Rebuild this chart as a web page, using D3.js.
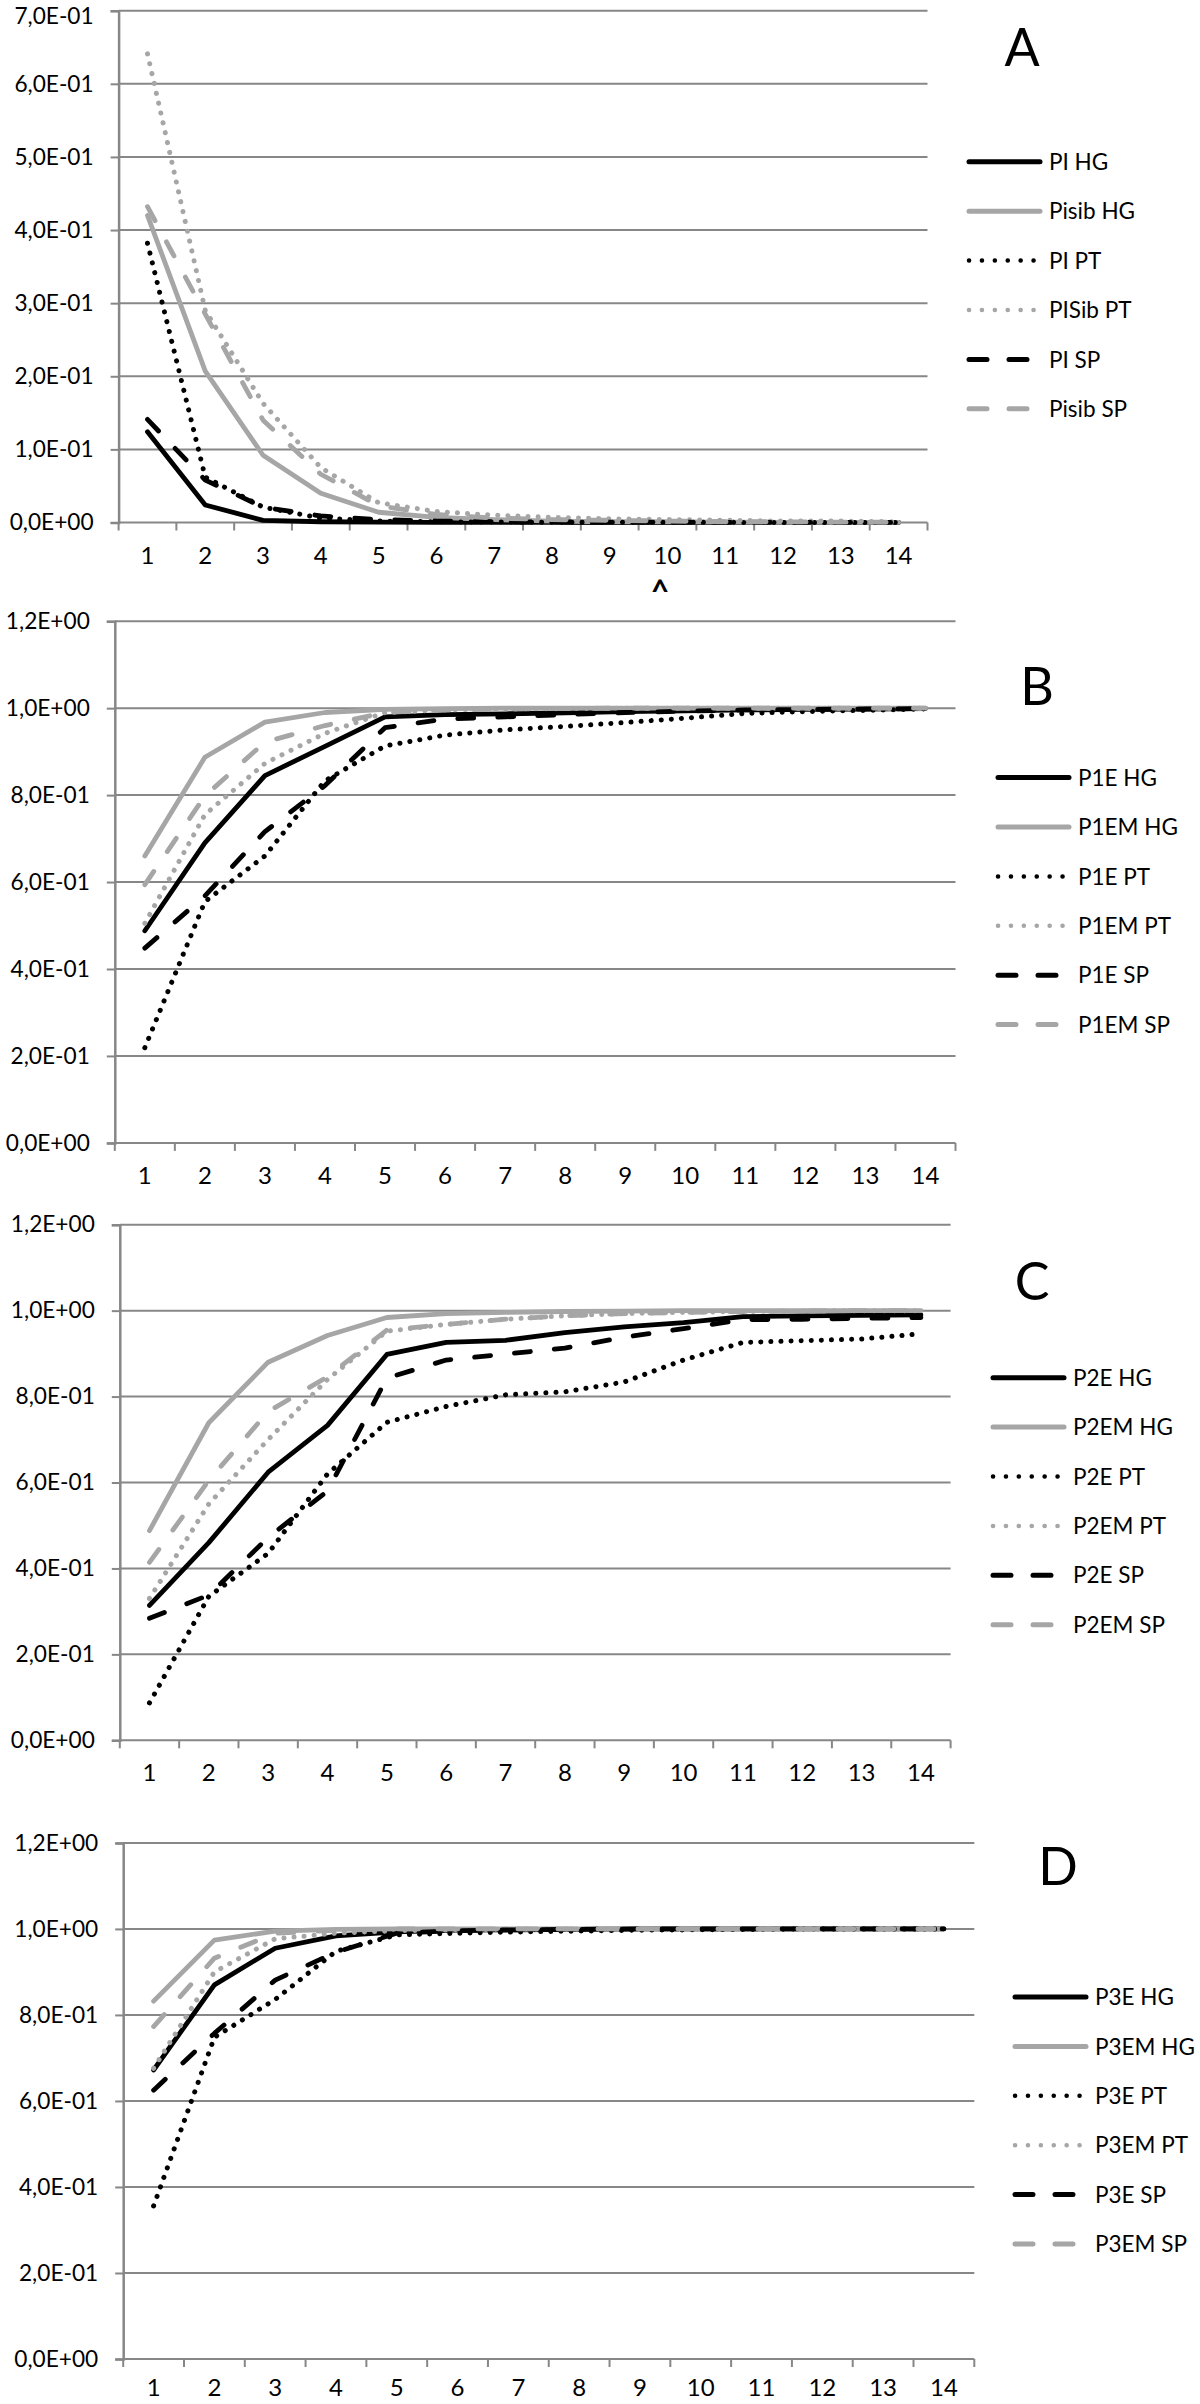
<!DOCTYPE html>
<html><head><meta charset="utf-8">
<script src="https://cdn.jsdelivr.net/npm/d3@7"></script>
<style>
html,body{margin:0;padding:0;background:#fff;}
svg{display:block;}
text{font-family:Lato,"Open Sans",sans-serif;fill:#000;}
</style></head>
<body>
<svg id="chart" width="1200" height="2404"></svg>
<script>
// ---------- DATA ----------
const categories = [1,2,3,4,5,6,7,8,9,10,11,12,13,14];

// Panel A
const namesA = ["PI HG","Pisib HG","PI PT","PISib PT","PI SP","Pisib SP"];
const PI_HG    = [0.124,0.024,0.003,0.001,0.0005,0.0003,0.0002,0.0001,0,0,0,0,0,0];
const Pisib_HG = [0.420,0.207,0.092,0.040,0.014,0.007,0.004,0.002,0.001,0.001,0.0005,0.0003,0.0002,0.0001];
const PI_PT    = [0.382,0.062,0.021,0.006,0.002,0.001,0.0006,0.0004,0.0003,0.0002,0.0002,0.0001,0.0001,0.0001];
const PISib_PT = [0.641,0.290,0.163,0.075,0.027,0.015,0.010,0.007,0.005,0.004,0.003,0.002,0.002,0.001];
const PI_SP    = [0.141,0.058,0.021,0.009,0.004,0.002,0.001,0.0008,0.0005,0.0004,0.0003,0.0002,0.0002,0.0001];
const Pisib_SP = [0.432,0.285,0.140,0.066,0.023,0.011,0.006,0.004,0.003,0.002,0.001,0.001,0.0005,0.0003];
const ticksA = [0,0.1,0.2,0.3,0.4,0.5,0.6,0.7];

// Panel B
const namesB = ["P1E HG","P1EM HG","P1E PT","P1EM PT","P1E SP","P1EM SP"];
const P1E_HG  = [0.488,0.690,0.845,0.912,0.980,0.985,0.987,0.989,0.992,0.994,0.996,0.997,0.998,0.999];
const P1EM_HG = [0.660,0.887,0.968,0.990,0.997,0.999,1.000,1.000,1.000,1.000,1.000,1.000,1.000,1.000];
const P1E_PT  = [0.219,0.555,0.660,0.833,0.913,0.938,0.950,0.958,0.967,0.977,0.988,0.992,0.995,0.998];
const P1EM_PT = [0.505,0.755,0.873,0.942,0.990,0.996,0.998,0.999,1.000,1.000,1.000,1.000,1.000,1.000];
const P1E_SP  = [0.448,0.568,0.716,0.822,0.955,0.975,0.980,0.985,0.990,0.993,0.996,0.997,0.998,0.999];
const P1EM_SP = [0.594,0.798,0.922,0.960,0.990,0.996,0.998,0.999,1.000,1.000,1.000,1.000,1.000,1.000];

// Panel C
const namesC = ["P2E HG","P2EM HG","P2E PT","P2EM PT","P2E SP","P2EM SP"];
const P2E_HG  = [0.314,0.460,0.624,0.733,0.898,0.926,0.931,0.949,0.962,0.972,0.986,0.988,0.989,0.990];
const P2EM_HG = [0.488,0.739,0.880,0.942,0.984,0.993,0.996,0.998,0.999,1.000,1.000,1.000,1.000,1.000];
const P2E_PT  = [0.087,0.335,0.435,0.620,0.740,0.777,0.804,0.811,0.834,0.885,0.926,0.930,0.934,0.946];
const P2EM_PT = [0.330,0.550,0.700,0.840,0.952,0.968,0.980,0.988,0.993,0.996,0.998,0.999,1.000,1.000];
const P2E_SP  = [0.284,0.338,0.472,0.580,0.843,0.885,0.899,0.913,0.938,0.958,0.979,0.980,0.982,0.984];
const P2EM_SP = [0.414,0.605,0.765,0.846,0.955,0.968,0.980,0.988,0.993,0.996,0.998,0.999,1.000,1.000];

// Panel D
const namesD = ["P3E HG","P3EM HG","P3E PT","P3EM PT","P3E SP","P3EM SP"];
const P3E_HG  = [0.672,0.870,0.955,0.984,0.993,0.997,0.998,0.999,1.000,1.000,1.000,1.000,1.000,1.000];
const P3EM_HG = [0.832,0.974,0.995,0.999,1.000,1.000,1.000,1.000,1.000,1.000,1.000,1.000,1.000,1.000];
const P3E_PT  = [0.356,0.748,0.836,0.948,0.986,0.990,0.993,0.995,0.997,0.998,0.999,1.000,1.000,1.000];
const P3EM_PT = [0.676,0.900,0.977,0.990,0.996,0.998,1.000,1.000,1.000,1.000,1.000,1.000,1.000,1.000];
const P3E_SP  = [0.625,0.757,0.881,0.946,0.990,0.996,0.998,0.999,1.000,1.000,1.000,1.000,1.000,1.000];
const P3EM_SP = [0.773,0.932,0.990,0.997,1.000,1.000,1.000,1.000,1.000,1.000,1.000,1.000,1.000,1.000];
const ticksBCD = [0,0.2,0.4,0.6,0.8,1.0,1.2];

const panelLetters = ["A","B","C","D"];
const caretLabel = "^";

// ---------- STYLES ----------
const BLACK = "#000000", GRAY = "#a6a6a6", GRID = "#878787";
const DOT = "0.1 10", DASH = "16 24";
const styles = [
  {color:BLACK, dash:null},
  {color:GRAY,  dash:null},
  {color:BLACK, dash:DOT},
  {color:GRAY,  dash:DOT},
  {color:BLACK, dash:DASH},
  {color:GRAY,  dash:DASH}
];

// ---------- LAYOUT ----------
const panels = [
  {letter:panelLetters[0], names:namesA, series:[PI_HG,Pisib_HG,PI_PT,PISib_PT,PI_SP,Pisib_SP], ticks:ticksA,
   left:118.6, right:927.5, top:10.7, bottom:522.5, xPad:24,
   legX:969, legY:161.8, letterX:1022, letterY:47},
  {letter:panelLetters[1], names:namesB, series:[P1E_HG,P1EM_HG,P1E_PT,P1EM_PT,P1E_SP,P1EM_SP], ticks:ticksBCD,
   left:114.8, right:955.5, top:621.2, bottom:1142.9, xPad:24,
   legX:998, legY:777.6, letterX:1037, letterY:686},
  {letter:panelLetters[2], names:namesC, series:[P2E_HG,P2EM_HG,P2E_PT,P2EM_PT,P2E_SP,P2EM_SP], ticks:ticksBCD,
   left:119.8, right:950.6, top:1224.7, bottom:1740.3, xPad:24,
   legX:993, legY:1377.7, letterX:1032, letterY:1281},
  {letter:panelLetters[3], names:namesD, series:[P3E_HG,P3EM_HG,P3E_PT,P3EM_PT,P3E_SP,P3EM_SP], ticks:ticksBCD,
   left:123.2, right:974.3, top:1842.9, bottom:2359, xPad:20,
   legX:1015, legY:1997, letterX:1058, letterY:1866}
];

function fmtE(v){
  let [m,e] = v.toExponential(1).split("e");
  const sign = e[0] === "-" ? "-" : "+";
  const n = Math.abs(parseInt(e,10));
  return m.replace(".",",") + "E" + sign + String(n).padStart(2,"0");
}

const svg = d3.select("#chart");
svg.append("rect").attr("width",1200).attr("height",2404).attr("fill","#fff");

// font sizing: fit measured text widths to the reference widths
function measure(str, size){
  const t = svg.append("text").attr("font-size", size).text(str);
  const w = t.node().getComputedTextLength();
  t.remove();
  return w;
}
const yFont = Math.min(27, 100 * 84 / measure("1,2E+00", 100));
const legFont = Math.min(29, 100 * 100 / measure("P1EM HG", 100));
const xFont = 24;

panels.forEach(p => {
  const g = svg.append("g");
  const yMax = d3.max(p.ticks);
  const x = d3.scaleBand().domain(categories).range([p.left, p.right]).padding(0);
  const y = d3.scaleLinear().domain([0, yMax]).range([p.bottom, p.top]);
  const bw = x.bandwidth();

  // gridlines
  g.selectAll("line.grid").data(p.ticks).join("line")
    .attr("x1", p.left).attr("x2", p.right)
    .attr("y1", d => y(d)).attr("y2", d => y(d))
    .attr("stroke", GRID).attr("stroke-width", 2);

  // y axis
  const yAxis = d3.axisLeft(y).tickValues(p.ticks).tickSize(8).tickPadding(17).tickFormat(fmtE);
  const ya = g.append("g").attr("transform", `translate(${p.left},0)`).call(yAxis);
  ya.select(".domain").attr("stroke", GRID).attr("stroke-width", 2.5);
  ya.selectAll(".tick line").attr("stroke", GRID).attr("stroke-width", 2);
  ya.selectAll(".tick text").attr("font-size", yFont).attr("font-family", "Lato").attr("fill", "#000");
  // keep a label that would poke above the page top inside it
  ya.selectAll(".tick").each(function(d){
    const ty = y(d);
    const minDy = yFont * 1.0 - ty; // baseline must be at least one em below the page top
    if (minDy > 0.32 * yFont) d3.select(this).select("text").attr("dy", (minDy + 0.5) + "px");
  });

  // x axis labels
  const xAxis = d3.axisBottom(x).tickSize(0).tickPadding(p.xPad);
  const xa = g.append("g").attr("transform", `translate(0,${p.bottom})`).call(xAxis);
  xa.select(".domain").remove();
  xa.selectAll(".tick text").attr("font-size", xFont).attr("font-family", "Lato").attr("fill", "#000");

  // x tick marks at band boundaries
  const edges = categories.map(c => x(c)).concat([x(categories[categories.length-1]) + bw]);
  g.selectAll("line.xt").data(edges).join("line")
    .attr("x1", d => d).attr("x2", d => d)
    .attr("y1", p.bottom).attr("y2", p.bottom + 8)
    .attr("stroke", GRID).attr("stroke-width", 2);

  // series lines
  const line = d3.line()
    .x((d,i) => x(categories[i]) + bw/2)
    .y(d => y(d));
  p.series.forEach((s, k) => {
    const st = styles[k];
    g.append("path").datum(s)
      .attr("d", line)
      .attr("fill", "none")
      .attr("stroke", st.color)
      .attr("stroke-width", st.dash === DOT ? 5 : 4.8)
      .attr("stroke-linejoin", "round")
      .attr("stroke-linecap", "round")
      .attr("stroke-dasharray", st.dash);
  });

  // legend
  p.names.forEach((nm, k) => {
    const st = styles[k];
    const ly = p.legY + k * 49.4;
    g.append("line")
      .attr("x1", p.legX).attr("x2", p.legX + 71)
      .attr("y1", ly).attr("y2", ly)
      .attr("stroke", st.color)
      .attr("stroke-width", st.dash === DOT ? 4.5 : 5)
      .attr("stroke-linecap", "round")
      .attr("stroke-dasharray", st.dash === DOT ? "0.1 12.8" : (st.dash ? "18 22" : null));
    g.append("text")
      .attr("x", p.legX + 80).attr("y", ly).attr("dy", "0.36em")
      .attr("font-size", legFont).text(nm);
  });

  // panel letter
  g.append("text")
    .attr("x", p.letterX).attr("y", p.letterY).attr("dy", "0.36em")
    .attr("text-anchor", "middle").attr("font-size", 52).text(p.letter);
});

// caret mark under category 10 of panel A
svg.append("text").attr("x", 660).attr("y", 603)
  .attr("text-anchor", "middle").attr("font-size", 32).attr("font-weight", "bold").text(caretLabel);
</script>
</body></html>
